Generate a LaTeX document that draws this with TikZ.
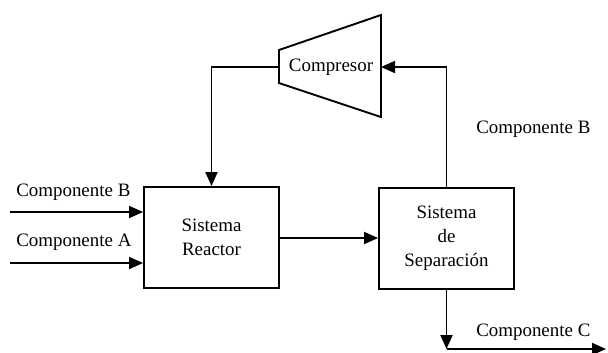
\documentclass[tikz,border=0pt]{standalone}
\usepackage{fontspec}
\setmainfont{Liberation Serif}
\usepackage{tikz}
\usetikzlibrary{arrows.meta,positioning}

\begin{document}
\begin{tikzpicture}[x=1bp,y=-1bp,
    line width=1.9bp,
    flow/.style={-{Triangle[length=14bp,width=12bp]}},
    unit/.style={shape=rectangle, draw, minimum width=135bp, minimum height=101bp, align=center, font=\fontsize{19}{24}\selectfont},
    lbl/.style={anchor=west, font=\fontsize{19}{24}\selectfont}]
    \useasboundingbox (0,0) rectangle (608,352);
    \node[unit] (reac) at (211.5,237.5) {Sistema\\Reactor};
    \node[unit] (sep) at (446.5,238.5) {Sistema\\de\\Separación};
    \coordinate (cl) at (279,67);
    \coordinate (cr) at (381,67);
    \draw (279,50) -- (381,15) -- (381,117) -- (279,83) -- cycle;
    \node[font=\fontsize{19}{24}\selectfont] (comp) at (331,67) {Compresor};
    \coordinate (inB) at (10,212);
    \coordinate (inA) at (10,263);
    \coordinate (outC) at (446.5,349);
    \coordinate (endC) at (606,349);
    \draw[flow] (inB) -- (inB -| reac.west);
    \draw[flow] (inA) -- (inA -| reac.west);
    \draw[flow] (reac.east |- 0,238) -- (sep.west |- 0,238);
    \draw[flow] (sep.north) |- (cr);
    \draw[flow] (cl) -| (reac.north);
    \draw[flow] (sep.south) -- (outC);
    \draw[flow] (outC) -- (endC);
    \node[lbl] (lb) at (12,192) {Componente B};
    \node[lbl] (la) at (12,242) {Componente A};
    \node[lbl] (rb) at (472,129) {Componente B};
    \node[lbl] (rc) at (472,332) {Componente C};
\end{tikzpicture}
\end{document}
